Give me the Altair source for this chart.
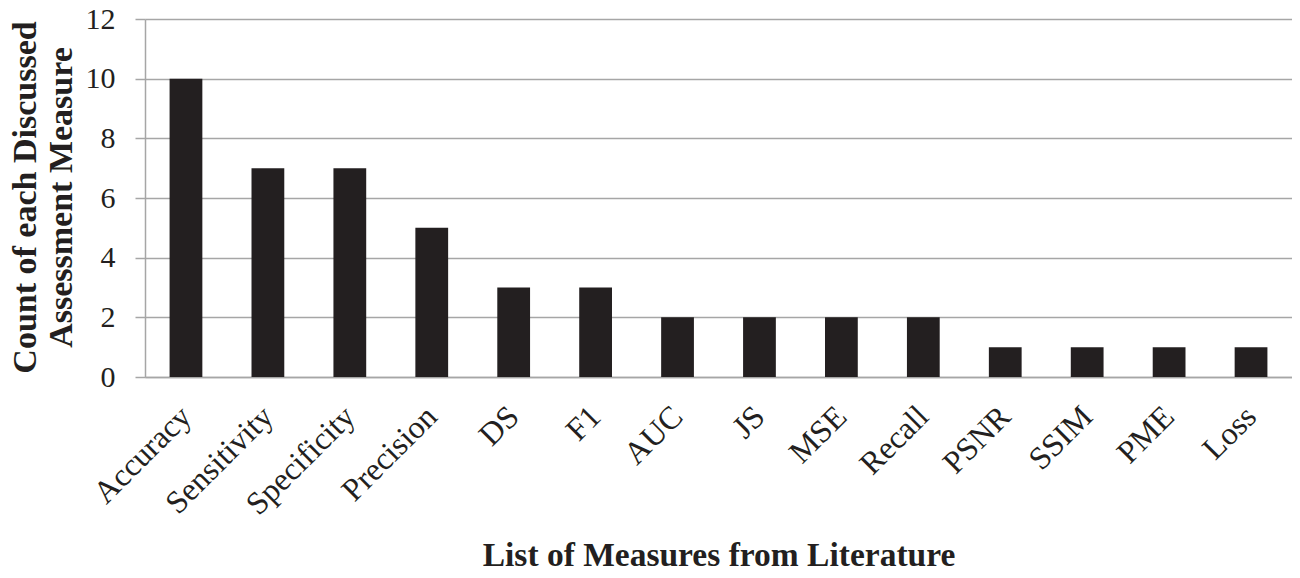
import altair as alt
import pandas as pd

measures = ["Accuracy", "Sensitivity", "Specificity", "Precision", "DS", "F1", "AUC",
            "JS", "MSE", "Recall", "PSNR", "SSIM", "PME", "Loss"]
counts = [10, 7, 7, 5, 3, 3, 2, 2, 2, 2, 1, 1, 1, 1]
y_ticks = [0, 2, 4, 6, 8, 10, 12]

df = pd.DataFrame({"measure": measures, "count": counts})

FONT = "Liberation Serif"
GRID = "#a6a6a6"

chart = alt.Chart(df).mark_bar(color="#231f20").encode(
    x=alt.X("measure:N", sort=measures,
            scale=alt.Scale(paddingInner=0.6, paddingOuter=0.3),
            axis=alt.Axis(title="List of Measures from Literature",
                          labelAngle=-45, labelAlign="right", labelBaseline="middle",
                          labelFont=FONT, labelFontSize=32, labelColor="#231f20",
                          labelPadding=34, ticks=False, domainColor=GRID, domainWidth=1.5,
                          titleFont=FONT, titleFontSize=33.5, titleFontWeight="bold",
                          titleColor="#231f20", titleY=188, titleBaseline="alphabetic")),
    y=alt.Y("count:Q", scale=alt.Scale(domain=[0, 12], nice=False),
            axis=alt.Axis(title=["Count of each Discussed", "Assessment Measure"],
                          values=y_ticks, grid=True, gridColor=GRID, gridWidth=1.5,
                          tickColor=GRID, tickSize=10, tickWidth=1.5,
                          domainColor=GRID, domainWidth=1.5,
                          labelFont=FONT, labelFontSize=30, labelColor="#231f20",
                          labelPadding=20,
                          titleFont=FONT, titleFontSize=34, titleFontWeight="bold",
                          titleColor="#231f20", titleX=-110, titleY=178,
                          titleAlign="center", titleAngle=270,
                          titleBaseline="alphabetic", titleLineHeight=36)),
).properties(
    width=1147, height=358,
    autosize=alt.AutoSizeParams(type="none"),
    padding={"left": 137, "top": 11, "right": 0, "bottom": 200},
).configure_view(stroke=None)

chart.save("out.html", embed_options={"renderer": "svg", "actions": False})
